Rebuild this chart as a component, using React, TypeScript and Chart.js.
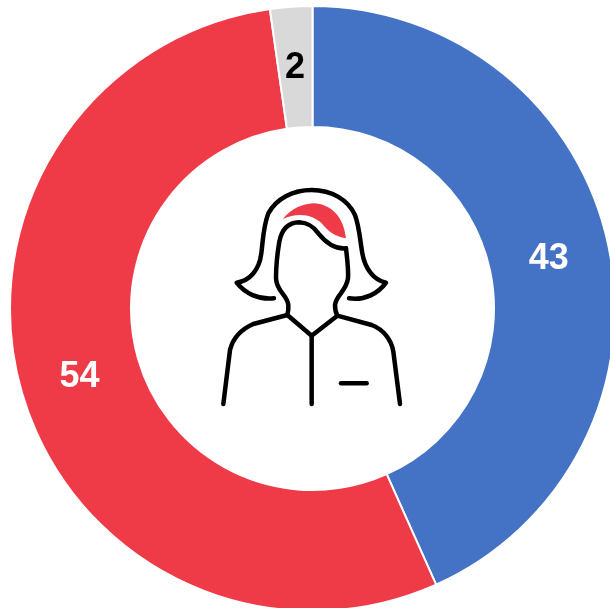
import React, { useEffect, useRef } from "react";
import { Chart, registerables } from "chart.js";

Chart.register(...registerables);

const categories = ["Blue", "Red", "Grey"];
const seriesValues = [43.3, 54.45, 2.25];
const sliceLabels = ["43", "54", "2"];
const sliceColors = ["#4472C4", "#EF3A47", "#D9D9D9"];
const labelColors = ["#FFFFFF", "#FFFFFF", "#000000"];

const sliceLabelPlugin = {
  id: "sliceLabels",
  afterDatasetsDraw(chart: any) {
    const { ctx } = chart;
    ctx.save();
    ctx.font = 'bold 36px "Liberation Sans", Arial, sans-serif';
    ctx.textAlign = "center";
    ctx.textBaseline = "middle";
    chart.getDatasetMeta(0).data.forEach((arc: any, i: number) => {
      const p = arc.getCenterPoint();
      ctx.fillStyle = labelColors[i];
      ctx.fillText(sliceLabels[i], p.x - 0.5, p.y + 1);
    });
    ctx.restore();
  },
};

function Person() {
  return (
    <svg
      viewBox="0 0 660 750"
      width={220}
      height={250}
      style={{ position: "absolute", left: 200, top: 170 }}
    >
      <path
        d="M248 147 C275 115 310 100 345 100 C395 105 430 140 438 205 C405 200 385 185 365 160 C340 135 295 125 248 147 Z"
        fill="#EF3A47"
      />
      <g fill="none" stroke="#000" strokeWidth={13.5} strokeLinecap="round" strokeLinejoin="round">
        <path d="M222 385 C175 390 135 370 110 338 C150 332 178 300 184 250 C190 200 190 170 205 130 C230 85 280 60 335 60 C395 60 445 90 465 135 C478 170 480 210 487 250 C495 295 520 330 558 338 C535 370 495 392 447 385" />
        <path d="M438 235 C400 238 375 215 355 190 C340 170 325 158 297 157 C265 158 245 180 238 215 C232 250 228 290 228 325 C230 365 262 375 265 405 C266 420 264 428 262 435" />
        <path d="M438 235 C442 270 446 300 444 325 C438 365 408 375 405 405 C405 420 408 430 412 437" />
        <path d="M70 702 L90 540 C100 500 130 475 160 462 L262 435 L335 497 L412 437 L515 465 C550 478 575 510 580 545 L600 702" />
        <path d="M335 497 L335 702" />
        <path d="M423 640 L500 640" />
      </g>
    </svg>
  );
}

export default function App() {
  const ref = useRef<HTMLCanvasElement | null>(null);
  useEffect(() => {
    const chart = new Chart(ref.current as HTMLCanvasElement, {
      type: "doughnut",
      data: {
        labels: categories,
        datasets: [
          {
            data: seriesValues,
            backgroundColor: sliceColors,
            borderColor: "#FFFFFF",
            borderWidth: 2,
          },
        ],
      },
      options: {
        animation: false,
        responsive: false,
        cutout: 181.5,
        layout: { padding: 0 },
        plugins: { legend: { display: false }, tooltip: { enabled: false } },
      },
      plugins: [sliceLabelPlugin],
    } as any);
    return () => chart.destroy();
  }, []);
  return (
    <div
      style={{
        position: "fixed",
        left: 0,
        top: 0,
        width: 610,
        height: 608,
        overflow: "hidden",
        background: "#fff",
      }}
    >
      <canvas
        ref={ref}
        width={607}
        height={607}
        style={{ position: "absolute", left: 9, top: 4.5, width: 607, height: 607 }}
      />
      <Person />
    </div>
  );
}
